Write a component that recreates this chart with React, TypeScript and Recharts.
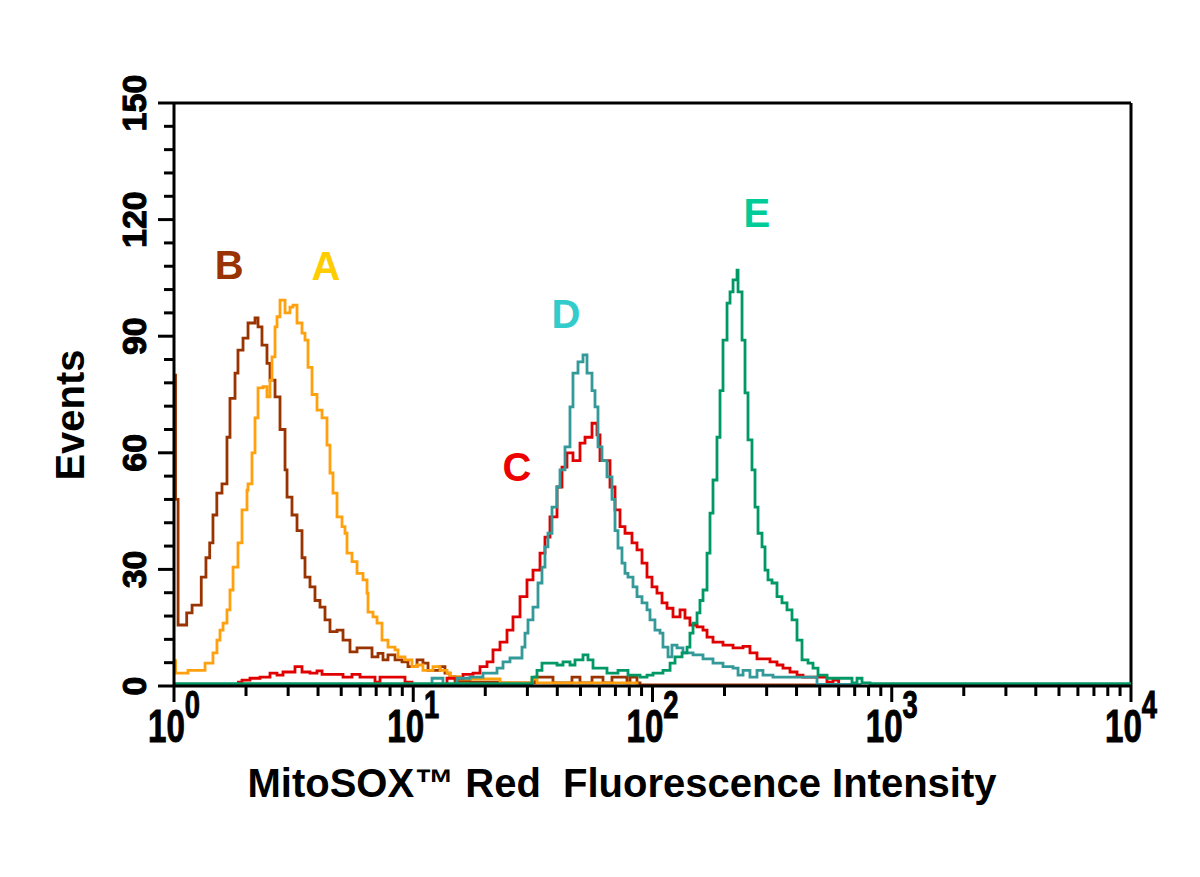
import React from 'react';
import { LineChart, Line, XAxis, YAxis, ReferenceDot, ReferenceLine } from 'recharts';

// flow histograms: [intensity, events]
const seriesA: [number, number][] = [
  [1.0, 6.5], [1.015, 3.3], [1.144, 4], [1.348, 5.9], [1.455, 8.5], [1.512, 11.8], [1.557, 14.4],
  [1.603, 16.2], [1.665, 19.6], [1.714, 24.7], [1.765, 30.6], [1.851, 36.8], [1.924, 45.3],
  [2.019, 50.4], [2.039, 52], [2.118, 60], [2.181, 69], [2.245, 76.7], [2.355, 77], [2.447, 74.4],
  [2.519, 78.7], [2.568, 84.7], [2.644, 92.4], [2.695, 95], [2.774, 99.3], [2.911, 96],
  [3.053, 97.5], [3.143, 98], [3.267, 93.4], [3.428, 90.8], [3.528, 89], [3.632, 82],
  [3.775, 75], [3.96, 71], [4.156, 69], [4.36, 62], [4.487, 54.8], [4.619, 49.6], [4.801, 43.5],
  [5.037, 41], [5.184, 39.3], [5.285, 34.2], [5.546, 32], [5.821, 29], [6.166, 27.3],
  [6.409, 23.9], [6.471, 19], [6.79, 17.8], [7.056, 16.2], [7.403, 11.8], [7.842, 10],
  [8.389, 9.3], [8.636, 7.5], [9.236, 6.7], [9.881, 5], [10.37, 5.4], [10.98, 4], [12.09, 5],
  [12.94, 4], [13.84, 3.3], [14.24, 2.4], [15.68, 1.8], [23.05, 0.8], [31.35, 1.8], [32.9, 0.8],
  [86.14, 0],
];

const seriesB: [number, number][] = [
  [1.0, 80], [1.015, 48], [1.04, 15.7], [1.13, 18.8], [1.19, 20.8], [1.3, 28], [1.36, 33],
  [1.41, 36.8], [1.455, 44], [1.51, 49.6], [1.587, 52], [1.665, 64], [1.714, 74], [1.799, 80.5],
  [1.851, 86.4], [1.943, 89.5], [2.039, 93.4], [2.181, 94.7], [2.245, 92.4], [2.332, 87.7],
  [2.447, 83], [2.519, 78.7], [2.644, 74.4], [2.774, 66], [2.911, 55.6], [2.968, 48.6],
  [3.113, 44], [3.267, 40], [3.428, 33], [3.528, 28], [3.702, 25.5], [3.884, 22], [4.076, 20.3],
  [4.277, 17], [4.487, 14], [4.801, 14.4], [5.087, 11.8], [5.44, 8.8], [5.821, 9.8],
  [6.166, 9.8], [6.724, 7.5], [7.123, 8.4], [7.474, 6.7], [7.842, 8], [8.389, 6.7], [8.974, 6.2],
  [9.507, 5], [10.37, 6.7], [10.98, 5.9], [11.53, 4], [12.33, 4], [12.94, 5], [13.57, 3.3],
  [14.24, 2.4], [14.95, 1.2], [17.27, 1.0], [23.05, 0.8], [32.28, 2.3], [38.38, 0.8],
  [46.07, 2.3], [49.77, 0.8], [55.87, 2.3], [62.1, 0.8], [67.71, 2.3], [78.2, 0.8],
  [80.54, 2.3], [86.14, 0.8], [88.67, 0.3], [491.8, 0],
];

const seriesC: [number, number][] = [
  [1.834, 1], [1.924, 1.5], [2.078, 2], [2.288, 2.3], [2.519, 3.3], [2.695, 2.8], [2.855, 3.6],
  [3.204, 5], [3.428, 3.6], [3.702, 3.3], [3.96, 3.9], [4.156, 3], [5.087, 2.3], [5.546, 3],
  [5.99, 2.3], [6.921, 1], [7.261, 2.3], [9.236, 1], [9.881, 0.4], [13.84, 2], [16.14, 3],
  [17.77, 3.3], [19.01, 5], [20.34, 6.2], [21.54, 9.3], [23.05, 11.3], [24.65, 14.4],
  [26.11, 17.8], [27.94, 23], [29.88, 27.3], [31.66, 29.8], [33.87, 34.2], [35.53, 38.3],
  [37.28, 43.5], [39.89, 51.2], [41.85, 56.3], [43.91, 60], [46.52, 58], [49.77, 62.5],
  [52.23, 64], [55.87, 67.6], [58.61, 64.6], [60.33, 58], [66.43, 51.2], [69.71, 45.3],
  [73.14, 41], [76.74, 39.3], [82.09, 36.8], [86.14, 35], [90.39, 31.6], [94.84, 28],
  [99.52, 25.5], [104.4, 23.9], [109.6, 21.4], [115.0, 20], [121.8, 17.8], [130.3, 19.6],
  [136.7, 17.5], [143.4, 15.7], [153.5, 15.2], [162.6, 14.4], [169.0, 12.6], [179.0, 11.3],
  [197.1, 10.5], [217.1, 9.8], [239.0, 10.2], [255.5, 8.5], [273.4, 7], [309.8, 6.2],
  [331.4, 5.4], [351.1, 4.6], [375.6, 3.6], [401.8, 2.8], [425.7, 2.3], [536.2, 1],
  [568.1, 1.5], [600, 0],
];

const seriesD: [number, number][] = [
  [11.0, 0.4], [11.98, 2], [13.31, 0.4], [15.24, 2], [17.27, 2.3], [19.56, 3.3], [22.39, 4.6],
  [23.72, 6.2], [25.37, 7.2], [28.48, 10], [29.31, 13.6], [30.17, 17], [31.66, 20.3],
  [33.22, 26.5], [34.52, 30.6], [35.53, 35.8], [36.57, 39.3], [38.01, 46], [39.89, 51.2],
  [41.06, 55.6], [43.08, 61.5], [45.2, 71.8], [46.52, 80.5], [48.82, 83.4], [51.23, 85.2],
  [53.24, 80.5], [55.87, 76], [57.5, 71.8], [59.18, 61.5], [61.5, 58], [64.53, 53.8],
  [67.71, 48], [69.71, 40], [71.74, 35.5], [74.55, 31.6], [76.74, 29], [78.99, 28],
  [82.89, 25.5], [86.14, 23], [90.39, 21.4], [94.84, 19.6], [97.61, 17], [102.4, 14.4],
  [107.5, 13.6], [110.6, 10], [116.1, 7.5], [120.6, 10.5], [126.6, 9.8], [134.1, 8.5],
  [147.7, 8], [162.6, 7], [179.0, 5.9], [197.1, 5], [217.1, 4.6], [227.8, 2.8], [239.0, 4],
  [255.5, 2.3], [273.4, 4], [289.6, 2.8], [318.9, 2.3], [487.1, 0.4], [736.8, 0],
];

const seriesE: [number, number][] = [
  [1.0, 0.6], [31.35, 2.3], [32.9, 4], [34.52, 5.9], [37.28, 5.9], [39.89, 5.4], [42.26, 6.2],
  [45.2, 5.4], [47.43, 6.7], [51.23, 8], [53.75, 6.7], [56.41, 4.6], [60.33, 4.6], [64.53, 3.3],
  [68.37, 3.3], [71.74, 4], [78.99, 2.8], [88.67, 2.3], [94.84, 2.8], [100.5, 3.3], [110.6, 4],
  [118.4, 5.9], [124.2, 7.5], [132.9, 8.5], [139.4, 10], [143.4, 13.6], [147.7, 16.2],
  [153.5, 18.8], [157.9, 22], [162.6, 24.7], [169.0, 34.2], [173.9, 44.5], [179.0, 53],
  [186.0, 64], [191.5, 76], [197.1, 89], [204.9, 98.5], [210.9, 101.4], [217.1, 104.5],
  [225.6, 107], [227.8, 101.4], [236.7, 89], [243.6, 75.4], [250.7, 63.3], [260.5, 55.6],
  [268.2, 46], [276.1, 39.3], [286.9, 35.8], [295.3, 29.8], [303.9, 27.3], [315.9, 26.5],
  [331.4, 23], [347.7, 21.4], [364.9, 19.6], [382.9, 17], [401.8, 11.8], [421.6, 6.7],
  [446.7, 5.9], [468.7, 4.6], [491.8, 2.8], [536.2, 2], [650.1, 2], [682.2, 0.8], [715.8, 2],
  [751.1, 0.8], [811.5, 0.6], [10000, 0.6],
];

const series = [
  { name: 'B', points: seriesB, color: '#993300' },
  { name: 'A', points: seriesA, color: '#FFA00F' },
  { name: 'C', points: seriesC, color: '#E00000' },
  { name: 'D', points: seriesD, color: '#339999' },
  { name: 'E', points: seriesE, color: '#009966' },
];

// curve letters: [label, intensity, events, colour]
const letterLabels: [string, number, number, string][] = [
  ['B', 1.7, 108.3, '#993300'],
  ['A', 4.32, 108, '#FFCC00'],
  ['D', 43.5, 95.7, '#33CCCC'],
  ['C', 27.1, 56.3, '#EE0000'],
  ['E', 273, 121.7, '#00CC99'],
];

const xDecades = [1, 10, 100, 1000, 10000];
const xMinorSteps = [2, 3, 4, 5, 6, 7, 8, 9];
const xTicks = [
  ...xDecades,
  ...xDecades.slice(0, 4).flatMap((d) => xMinorSteps.map((m) => m * d)),
].sort((a, b) => a - b);

const yLabels = [0, 30, 60, 90, 120, 150];
const yTicks = [0, 6, 12, 18, 24, 30, 36, 42, 48, 54, 60, 66, 72, 78, 84, 90, 96, 102, 108, 114, 120, 126, 132, 138, 144, 150];

const FONT = '"Liberation Sans", Arial, Helvetica, sans-serif';

function XTick(props: any) {
  const { x, y, payload } = props;
  const exp = xDecades.indexOf(payload.value);
  const major = exp >= 0;
  return (
    <g>
      <line x1={x} y1={y} x2={x} y2={y + (major ? 16 : 10)} stroke="#000" strokeWidth={3} />
      {major && (
        <g transform={`translate(${x} 0) scale(0.72 1)`}>
          <text x={0} y={y + 56} textAnchor="middle" fontFamily={FONT} fontWeight="bold" fontSize={46}
            fill="#000" stroke="#000" strokeWidth={1}>
            10<tspan dy={-24} fontSize={38}>{exp}</tspan>
          </text>
        </g>
      )}
    </g>
  );
}

function YTick(props: any) {
  const { x, y, payload } = props;
  const major = yLabels.includes(payload.value);
  const tx = x - 40;
  return (
    <g>
      <line x1={x - (major ? 16 : 10)} y1={y} x2={x} y2={y} stroke="#000" strokeWidth={3} />
      {major && (
        <text x={tx} y={y} transform={`rotate(-90 ${tx} ${y})`} textAnchor="middle" dominantBaseline="central"
          fontFamily={FONT} fontWeight="bold" fontSize={34} fill="#000" stroke="#000" strokeWidth={1}>
          {payload.value}
        </text>
      )}
    </g>
  );
}

export default function App() {
  return (
    <div style={{ position: 'absolute', left: 0, top: 0, width: 1200, height: 877, background: '#fff' }}>
      <LineChart width={1200} height={877} margin={{ top: 103, right: 69, bottom: 0, left: 0 }}>
        <XAxis
          type="number"
          dataKey="x"
          scale="log"
          domain={[1, 10000]}
          allowDataOverflow
          ticks={xTicks}
          interval={0}
          tick={<XTick />}
          tickLine={false}
          tickSize={0}
          tickMargin={0}
          axisLine={{ stroke: '#000', strokeWidth: 3 }}
          height={191}
          label={{
            content: () => (
              <text x={622} y={797} textAnchor="middle" fontFamily={FONT} fontWeight="bold" fontSize={40}
                fill="#000" style={{ whiteSpace: 'pre' }}>
                {'MitoSOX\u2122 Red  Fluorescence Intensity'}
              </text>
            ),
          }}
        />
        <YAxis
          type="number"
          domain={[0, 150]}
          ticks={yTicks}
          interval={0}
          tick={<YTick />}
          tickLine={false}
          tickSize={0}
          tickMargin={0}
          axisLine={{ stroke: '#000', strokeWidth: 3 }}
          width={174}
          label={{
            content: () => (
              <text x={70} y={415} transform="rotate(-90 70 415)" textAnchor="middle" dominantBaseline="central"
                fontFamily={FONT} fontWeight="bold" fontSize={40} fill="#000">
                Events
              </text>
            ),
          }}
        />
        <ReferenceLine y={150} stroke="#000" strokeWidth={3} ifOverflow="visible" />
        <ReferenceLine x={10000} stroke="#000" strokeWidth={3} ifOverflow="visible" />
        {series.map((s) => (
          <Line
            key={s.name}
            data={s.points.map(([x, y]) => ({ x, y }))}
            dataKey="y"
            type="stepAfter"
            stroke={s.color}
            strokeWidth={2.8}
            dot={false}
            activeDot={false}
            isAnimationActive={false}
          />
        ))}
        {letterLabels.map(([name, x, y, color]) => (
          <ReferenceDot key={name} x={x} y={y} r={0} fill="none" stroke="none" ifOverflow="visible"
            label={{ value: name, position: 'center', fill: color, fontSize: 40, fontWeight: 'bold', fontFamily: FONT }} />
        ))}
      </LineChart>
    </div>
  );
}
